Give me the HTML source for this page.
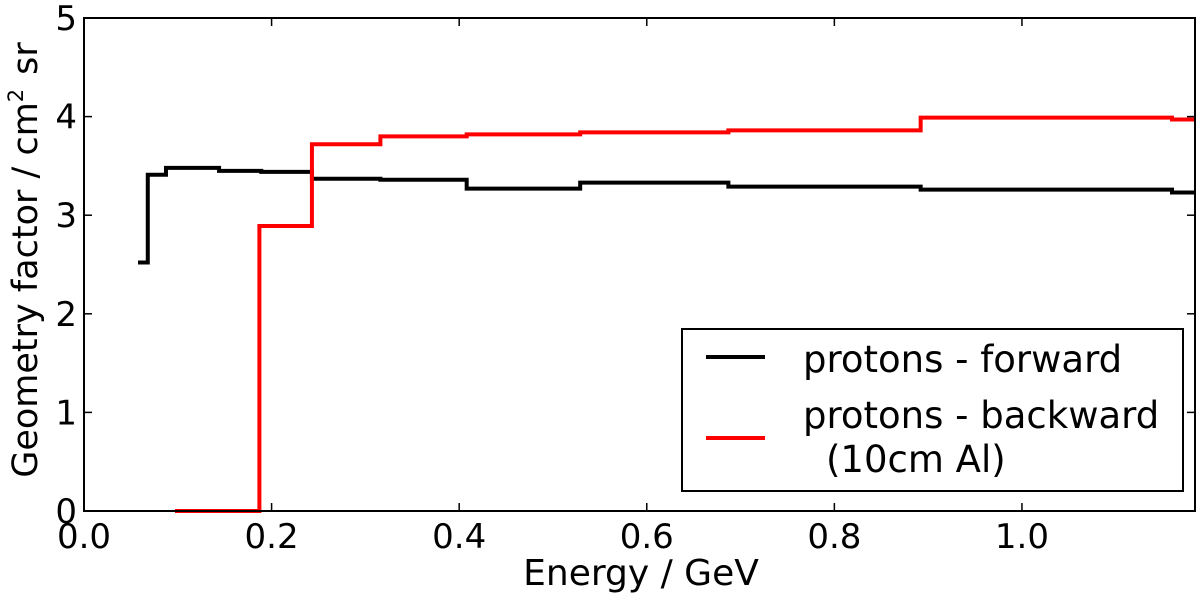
<!DOCTYPE html>
<html><head><meta charset="utf-8"><style>
body{margin:0;background:#fff;}
svg text{font-family:"DejaVu Sans","Liberation Sans",sans-serif;fill:#000;}
</style></head><body>
<svg id="chart" width="1200" height="598" xmlns="http://www.w3.org/2000/svg">
<g id="axes"></g>
<g id="series"></g>
<rect x="84" y="18" width="1111" height="493" fill="none" stroke="#000" stroke-width="2"/>
<text x="641" y="585" font-size="36" text-anchor="middle">Energy / GeV</text>
<text transform="translate(37,260) rotate(-90)" font-size="35" text-anchor="middle">Geometry factor / cm<tspan font-size="21" dy="-14">2</tspan><tspan dy="14" dx="14">sr</tspan></text>
<g>
<rect x="682" y="329" width="501" height="162" fill="#fff" stroke="#000" stroke-width="2"/>
<line x1="706" y1="357" x2="765" y2="357" stroke="#000" stroke-width="4"/>
<text x="803" y="372" font-size="37">protons - forward</text>
<line x1="706" y1="438" x2="765" y2="438" stroke="#f00" stroke-width="4"/>
<text x="803" y="428" font-size="37">protons - backward</text>
<text x="826" y="472" font-size="37">(10cm Al)</text>
</g>
</svg>
<script>
const xTicks=[0.0,0.2,0.4,0.6,0.8,1.0];
const xTickLabels=["0.0","0.2","0.4","0.6","0.8","1.0"];
const yTicks=[0,1,2,3,4,5];
const yTickLabels=["0","1","2","3","4","5"];
const fwdEdges=[0.0576,0.068,0.0874,0.144,0.189,0.243,0.316,0.408,0.529,0.687,0.892,1.160,1.184];
const fwdValues=[2.52,3.41,3.48,3.45,3.44,3.37,3.36,3.27,3.33,3.29,3.26,3.23];
const bwdEdges=[0.097,0.187,0.243,0.316,0.408,0.529,0.687,0.892,1.160,1.184];
const bwdValues=[0,2.89,3.72,3.80,3.82,3.84,3.86,3.99,3.97];
const X0=84,X1=1195,Y0=511,Y1=18,XMAX=1.1845,YMAX=5;
const sx=v=>X0+v/XMAX*(X1-X0);
const sy=v=>Y0-v/YMAX*(Y0-Y1);
const NS="http://www.w3.org/2000/svg";
const axes=document.getElementById('axes');
function mk(t,a){const e=document.createElementNS(NS,t);for(const k in a)e.setAttribute(k,a[k]);return e;}
xTicks.forEach((v,i)=>{
 const x=sx(v);
 const t1=mk('line',{x1:x,y1:Y0,x2:x,y2:Y0-8,stroke:'#000','stroke-width':1.5});
 
 
 axes.appendChild(t1);
 const t2=mk('line',{x1:x,y1:Y1,x2:x,y2:Y1+8,stroke:'#000','stroke-width':1.5});
 
 
 axes.appendChild(t2);
 const l=mk('text',{x:x,y:548,'font-size':34,'text-anchor':'middle'});
 l.textContent=xTickLabels[i];
 
 
 axes.appendChild(l);
});
yTicks.forEach((v,i)=>{
 const y=sy(v);
 const t1=mk('line',{x1:X0,y1:y,x2:X0+8,y2:y,stroke:'#000','stroke-width':1.5});
 
 
 axes.appendChild(t1);
 const t2=mk('line',{x1:X1,y1:y,x2:X1-8,y2:y,stroke:'#000','stroke-width':1.5});
 
 
 axes.appendChild(t2);
 const l=mk('text',{x:77,y:y+12,'font-size':34,'text-anchor':'end'});
 l.textContent=yTickLabels[i];
 
 
 axes.appendChild(l);
});
function stepPath(edges,vals){
 let d='M'+sx(edges[0])+','+sy(vals[0]);
 for(let i=0;i<vals.length;i++){
  if(i>0)d+=' L'+sx(edges[i])+','+sy(vals[i]);
  d+=' L'+sx(edges[i+1])+','+sy(vals[i]);
 }
 return d;
}
const series=document.getElementById('series');
const pf=mk('path',{d:stepPath(fwdEdges,fwdValues),fill:'none',stroke:'#000','stroke-width':4});


series.appendChild(pf);
const pb=mk('path',{d:stepPath(bwdEdges,bwdValues),fill:'none',stroke:'#f00','stroke-width':4});


series.appendChild(pb);
</script>
</body></html>
